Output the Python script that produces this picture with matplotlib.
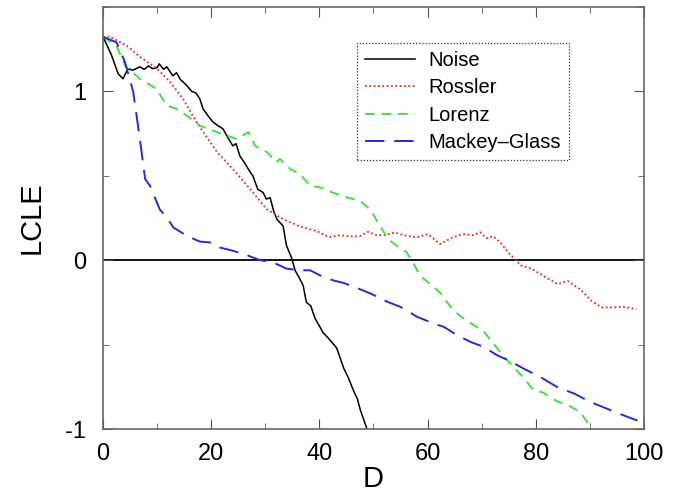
import numpy as np
import matplotlib
matplotlib.use("Agg")
import matplotlib.pyplot as plt
from matplotlib.ticker import MultipleLocator

plt.rcParams['font.family'] = ['Liberation Sans', 'DejaVu Sans']
plt.rcParams['axes.unicode_minus'] = False

# Noise (black solid)
noise_d = [0, 1.5, 2.8, 3.7, 4.6, 5.5, 6.8, 7.6, 8.4, 9.2, 10.0, 10.4, 11.2, 11.8,
           12.9, 13.6, 14.3, 14.8, 15.6, 16.4, 17.2, 17.9, 18.5, 19.3, 20.3, 21.1,
           22.2, 23.0, 24.0, 24.6, 25.3, 26.1, 27.2, 27.7, 28.6, 29.6, 30.2, 30.9,
           31.6, 32.2, 33.3, 33.9, 34.9, 35.5, 36.2, 37.0, 37.6, 38.4, 39.2, 40.0,
           40.7, 41.6, 42.4, 43.2, 44.5, 45.4, 46.4, 47.0, 47.6, 48.8]
noise_v = [1.323, 1.22, 1.104, 1.074, 1.134, 1.125, 1.145, 1.13, 1.15, 1.134, 1.14,
           1.163, 1.13, 1.145, 1.092, 1.11, 1.07, 1.056, 1.03, 1.0, 0.99, 0.955,
           0.896, 0.86, 0.819, 0.80, 0.777, 0.73, 0.677, 0.69, 0.617, 0.58, 0.522,
           0.50, 0.421, 0.40, 0.362, 0.37, 0.285, 0.24, 0.202, 0.089, 0.01, -0.06,
           -0.10, -0.15, -0.25, -0.27, -0.345, -0.39, -0.43, -0.46, -0.49, -0.52,
           -0.64, -0.70, -0.78, -0.82, -0.89, -1.0]

# Rossler (red dotted)
rossler_d = [0, 1.3, 4.4, 6.8, 10.0, 12.4, 14.8, 16.6, 18.5, 21.1, 24.0, 27.2, 30.3,
             33.3, 36.4, 39.5, 41.8, 43.8, 45.7, 47.5, 49.0, 50.6, 52.1, 54.0, 55.5,
             58.0, 60.1, 62.3, 64.7, 66.5, 68.4, 69.7, 70.9, 72.1, 73.4, 75.2, 76.5,
             77.1, 79.2, 81.4, 84.1, 85.9, 88.2, 90.3, 92.2, 94.3, 96.1, 98.6]
rossler_v = [1.323, 1.323, 1.27, 1.205, 1.134, 1.056, 0.955, 0.855, 0.76, 0.64, 0.54,
             0.421, 0.30, 0.243, 0.20, 0.172, 0.136, 0.148, 0.14, 0.142, 0.168, 0.148,
             0.148, 0.164, 0.148, 0.135, 0.154, 0.095, 0.136, 0.154, 0.148, 0.166,
             0.13, 0.142, 0.107, 0.036, -0.004, -0.03, -0.05, -0.093, -0.142, -0.123,
             -0.172, -0.241, -0.28, -0.28, -0.275, -0.29]

# Lorenz (green dashed)
lorenz_d = [0, 2.5, 4.1, 6.8, 9.9, 11.8, 13.6, 15.5, 17.9, 20.3, 22.9, 24.7, 26.9,
            28.1, 30.3, 32.1, 32.7, 34.6, 36.4, 38.3, 40.1, 42.5, 45.0, 47.5, 49.4,
            51.2, 52.7, 54.3, 56.1, 57.3, 58.6, 59.8, 62.3, 64.1, 66.0, 67.8, 70.3,
            72.1, 74.0, 75.8, 77.7, 79.5, 81.4, 83.9, 86.3, 88.2, 90.0, 90.3]
lorenz_v = [1.323, 1.27, 1.15, 1.074, 1.015, 0.915, 0.896, 0.856, 0.797, 0.767,
            0.738, 0.718, 0.758, 0.678, 0.64, 0.58, 0.60, 0.54, 0.51, 0.441, 0.431,
            0.40, 0.372, 0.352, 0.30, 0.204, 0.125, 0.085, 0.047, -0.012, -0.093,
            -0.123, -0.192, -0.27, -0.33, -0.37, -0.42, -0.49, -0.568, -0.627, -0.696,
            -0.766, -0.785, -0.835, -0.865, -0.90, -0.98, -1.01]

# Mackey-Glass (blue long dashed)
mackey_d = [0, 2.5, 4.1, 5.6, 6.8, 7.8, 8.7, 10.5, 11.8, 13.0, 15.5, 17.9, 19.8,
            21.6, 24.1, 26.6, 29.0, 31.5, 33.9, 36.4, 38.3, 40.1, 42.6, 44.5, 46.4,
            49.5, 52.6, 55.0, 58.1, 61.2, 63.0, 65.5, 68.0, 70.4, 72.9, 75.4, 77.8,
            80.9, 84.0, 87.1, 90.1, 93.2, 96.3, 98.8]
mackey_v = [1.323, 1.29, 1.17, 0.995, 0.72, 0.48, 0.44, 0.30, 0.253, 0.194, 0.144,
            0.11, 0.105, 0.075, 0.055, 0.03, 0.0, -0.014, -0.05, -0.06, -0.06, -0.09,
            -0.12, -0.135, -0.158, -0.198, -0.247, -0.277, -0.336, -0.376, -0.395,
            -0.445, -0.485, -0.514, -0.564, -0.60, -0.643, -0.693, -0.752, -0.79,
            -0.84, -0.88, -0.92, -0.95]

fig = plt.figure(figsize=(6.88, 4.92), dpi=100)
ax = fig.add_axes([0.1497, 0.128, 0.7863, 0.858])

ax.axhline(0, color='black', lw=1.3, zorder=1)
ax.plot(noise_d, noise_v, color='black', lw=1.1, label='Noise')
ax.plot(rossler_d, rossler_v, color='#e8242a', lw=1.3, ls=(0, (1, 1.4)), label='Rossler')
ax.plot(lorenz_d, lorenz_v, color='#44dd44', lw=1.4, ls=(0, (5, 3.5)), label='Lorenz')
ax.plot(mackey_d, mackey_v, color='#2a2ad0', lw=1.4, ls=(0, (10, 5)), label='Mackey\u2013Glass')

ax.set_xlim(0, 100)
ax.set_ylim(-1, 1.5)
ax.xaxis.set_major_locator(MultipleLocator(20))
ax.xaxis.set_minor_locator(MultipleLocator(10))
ax.yaxis.set_major_locator(MultipleLocator(1))
ax.yaxis.set_minor_locator(MultipleLocator(0.5))
ax.tick_params(which='both', direction='in', top=True, right=True, color='#555555',
               labelsize=17)
ax.tick_params(axis='x', pad=10)
ax.tick_params(axis='y', pad=12)
ax.tick_params(which='major', length=7)
ax.tick_params(which='minor', length=4)
for s in ax.spines.values():
    s.set_color('#666666')
    s.set_linewidth(1.2)

ax.set_xlabel('D', fontsize=21, labelpad=0)
ax.set_ylabel('LCLE', fontsize=21, labelpad=14)

leg = ax.legend(loc='upper left', bbox_to_anchor=(0.4695, 0.915), fontsize=14.5,
                frameon=True, fancybox=False, handlelength=2.5, borderpad=0.4,
                labelspacing=0.42, handletextpad=0.65, borderaxespad=0)
fr = leg.get_frame()
fr.set_edgecolor('black')
fr.set_linestyle((0, (1, 1.5)))
fr.set_linewidth(0.9)

fig.savefig('out.png', dpi=100)
